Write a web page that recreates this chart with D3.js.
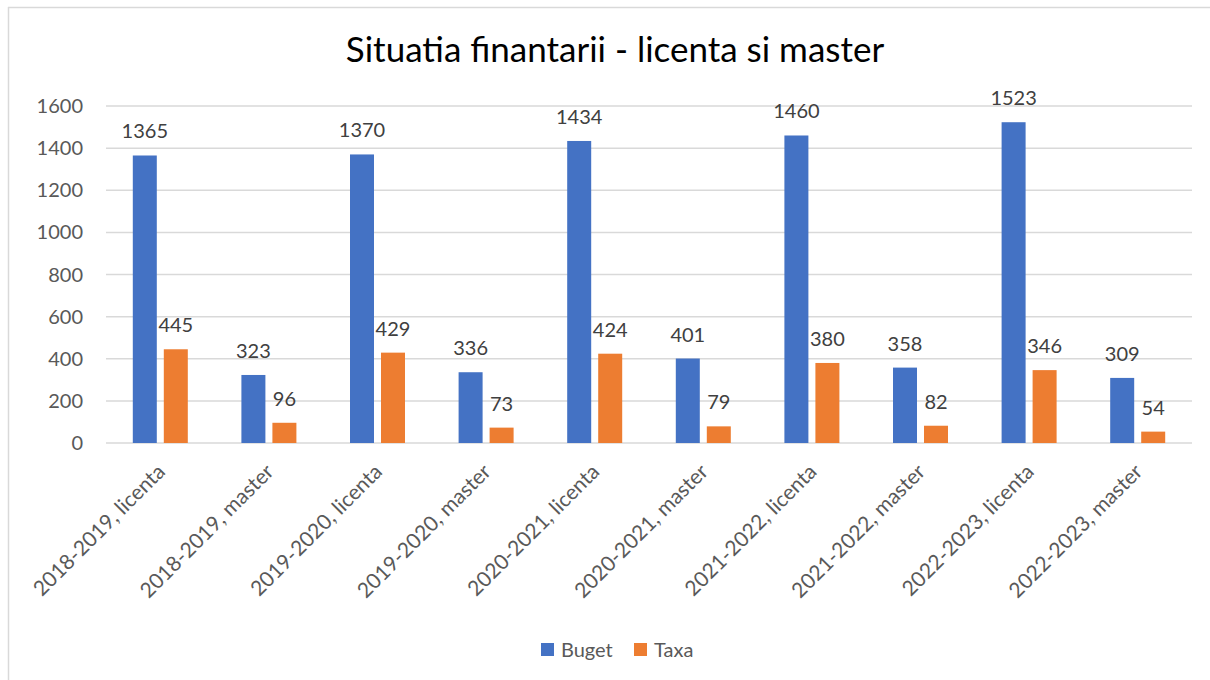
<!DOCTYPE html>
<html>
<head>
<meta charset="utf-8">
<script src="https://cdn.jsdelivr.net/npm/d3@7"></script>
<style>
  body { margin: 0; background: #fff; }
  text { font-family: Lato, "Open Sans", sans-serif; }
</style>
</head>
<body>
<svg id="chart" width="1210" height="680"></svg>
<script>
// data
var categories = ["2018-2019, licenta", "2018-2019, master", "2019-2020, licenta", "2019-2020, master",
  "2020-2021, licenta", "2020-2021, master", "2021-2022, licenta", "2021-2022, master",
  "2022-2023, licenta", "2022-2023, master"]
var seriesNames = ["Buget", "Taxa"]
var buget = [1365, 323, 1370, 336, 1434, 401, 1460, 358, 1523, 309]
var taxa = [445, 96, 429, 73, 424, 79, 380, 82, 346, 54]
var yTicks = [0, 200, 400, 600, 800, 1000, 1200, 1400, 1600]
var colors = ["#4472C4", "#ED7D31"]

var svg = d3.select("#chart")
var plotLeft = 106, plotRight = 1192, plotTop = 106, plotBottom = 443

// frame (only top and left edges visible)
svg.append("line").attr("x1", 8).attr("x2", 1210).attr("y1", 7.5).attr("y2", 7.5)
  .attr("stroke", "#d9d9d9").attr("stroke-width", 1.5)
svg.append("line").attr("x1", 8.5).attr("x2", 8.5).attr("y1", 7).attr("y2", 680)
  .attr("stroke", "#d9d9d9").attr("stroke-width", 1.5)

//Title
svg.append("text")
  .attr("x", 615).attr("y", 62)
  .attr("text-anchor", "middle")
  .attr("font-size", 35)
  .attr("fill", "#000")
  .text("Situatia finantarii - licenta si master")

var x = d3.scaleBand().domain(categories).range([plotLeft, plotRight]).padding(0)
var y = d3.scaleLinear().domain([0, 1600]).range([plotBottom, plotTop])

// Grid
svg.append("g").selectAll("line").data(yTicks).enter().append("line")
  .attr("x1", plotLeft).attr("x2", plotRight)
  .attr("y1", d => y(d)).attr("y2", d => y(d))
  .attr("stroke", "#d9d9d9").attr("stroke-width", 1.5)

// Y labels
svg.append("g").selectAll("text").data(yTicks).enter().append("text")
  .attr("x", 83).attr("y", d => y(d) + 7)
  .attr("text-anchor", "end")
  .attr("font-size", 20)
  .attr("fill", "#595959")
  .text(d => d)

var rows = categories.map((c, i) => ({cat: c, vals: [buget[i], taxa[i]]}))

rows.forEach(row => {
  var cx = x(row.cat) + x.bandwidth() / 2
  var inner = d3.scaleBand().domain(seriesNames).range([cx - 27.5, cx + 27.5]).paddingInner(0.226)
  var g = svg.append("g")

  // Bars
  g.selectAll("rect").data(row.vals).enter().append("rect")
    .attr("x", (d, i) => inner(seriesNames[i]))
    .attr("y", d => y(d))
    .attr("width", inner.bandwidth())
    .attr("height", d => plotBottom - y(d))
    .attr("fill", (d, i) => colors[i])

  // Data labels
  g.selectAll("text").data(row.vals).enter().append("text")
    .attr("x", (d, i) => inner(seriesNames[i]) + inner.bandwidth() / 2)
    .attr("y", d => y(d) - 17)
    .attr("text-anchor", "middle")
    .attr("font-size", 20)
    .attr("fill", "#404040")
    .text(d => d)
})

// X labels
svg.append("g").selectAll("text").data(categories).enter().append("text")
  .attr("transform", d => `translate(${x(d) + x.bandwidth() / 2 + 6},${plotBottom + 30}) rotate(-45)`)
  .attr("text-anchor", "end")
  .attr("font-size", 21)
  .attr("fill", "#595959")
  .text(d => d)

// Legend
var legendX = [541, 634]
var legend = svg.append("g")
seriesNames.forEach((s, i) => {
  legend.append("rect")
    .attr("x", legendX[i]).attr("y", 643)
    .attr("width", 13).attr("height", 13)
    .attr("fill", colors[i])
  legend.append("text")
    .attr("x", legendX[i] + 20).attr("y", 657)
    .attr("font-size", 20)
    .attr("fill", "#595959")
    .text(s)
})
</script>
</body>
</html>
